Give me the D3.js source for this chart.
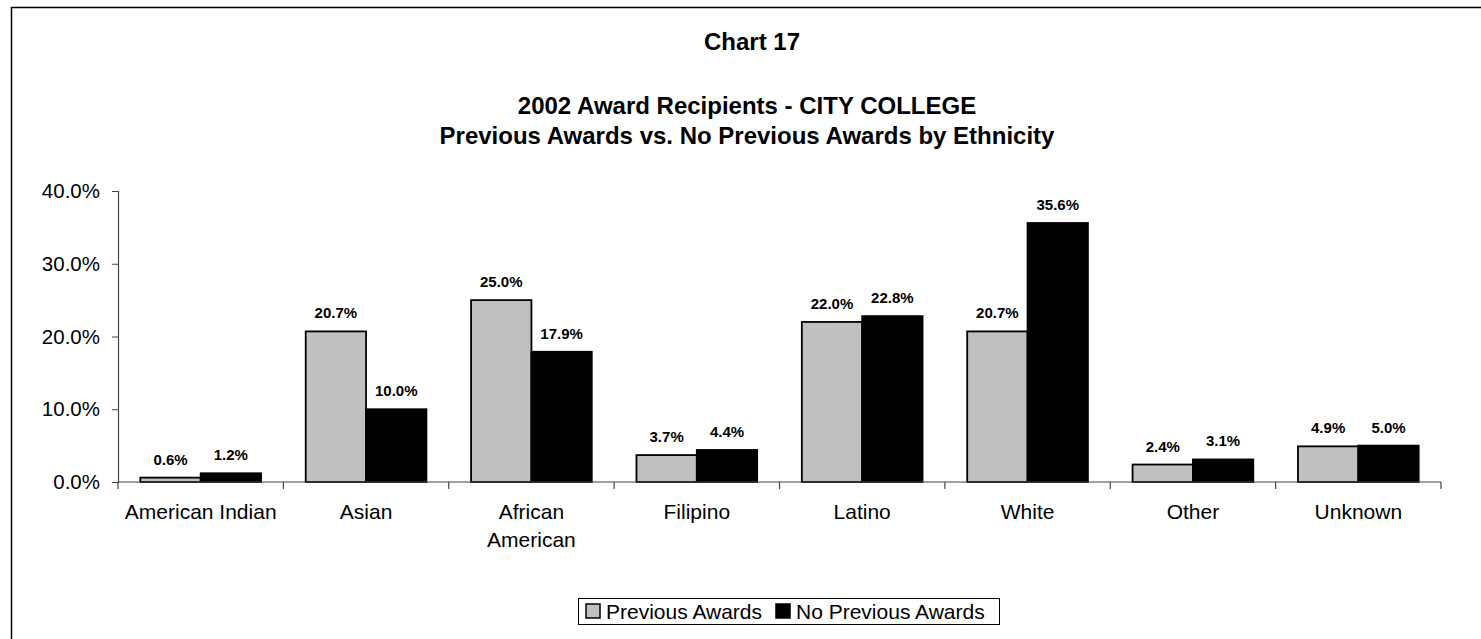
<!DOCTYPE html>
<html>
<head>
<meta charset="utf-8">
<script src="https://cdn.jsdelivr.net/npm/d3@7"></script>
<style>
  html, body { margin: 0; padding: 0; background: #fff; }
  svg { display: block; font-family: "Liberation Sans", Arial, sans-serif; }
</style>
</head>
<body>
<svg id="chart" width="1481" height="639"></svg>
<script>
const categories = ["American Indian", "Asian", "African American", "Filipino", "Latino", "White", "Other", "Unknown"];
const seriesNames = ["Previous Awards", "No Previous Awards"];
const previousAwards = [0.6, 20.7, 25.0, 3.7, 22.0, 20.7, 2.4, 4.9];
const noPreviousAwards = [1.2, 10.0, 17.9, 4.4, 22.8, 35.6, 3.1, 5.0];
const yTicks = [0, 10, 20, 30, 40];
const seriesColors = ["#c0c0c0", "#000000"];

const svg = d3.select("#chart");
const W = 1481, H = 639;

// outer border (right/bottom off canvas)
svg.append("rect")
  .attr("x", 11.5).attr("y", 7.5).attr("width", 1480).attr("height", 640)
  .attr("fill", "#fff").attr("stroke", "#000").attr("stroke-width", 1.5);

// titles
const cx = 747;
svg.append("text").attr("x", cx + 5).attr("y", 50).attr("text-anchor", "middle")
  .attr("font-size", 24).attr("font-weight", "bold").text("Chart 17");
svg.append("text").attr("x", cx).attr("y", 114).attr("text-anchor", "middle")
  .attr("font-size", 24).attr("font-weight", "bold").text("2002 Award Recipients - CITY COLLEGE");
svg.append("text").attr("x", cx).attr("y", 144).attr("text-anchor", "middle")
  .attr("font-size", 24).attr("font-weight", "bold").text("Previous Awards vs. No Previous Awards by Ethnicity");

// scales
const plotLeft = 118, plotRight = 1441, plotTop = 191, plotBottom = 482;
const x0 = d3.scaleBand().domain(categories).range([plotLeft, plotRight]).paddingInner(0).paddingOuter(0);
const x1 = d3.scaleBand().domain(seriesNames).range([0, x0.bandwidth()]).paddingInner(0).paddingOuter(0.37);
const y = d3.scaleLinear().domain([0, 40]).range([plotBottom, plotTop]);

// y axis
const yAxis = svg.append("g").attr("transform", `translate(${plotLeft},0)`)
  .call(d3.axisLeft(y).tickValues(yTicks).tickSize(6).tickPadding(12).tickFormat(d => d3.format(".1f")(d) + "%"));
yAxis.select(".domain").attr("stroke", "#444").attr("stroke-width", 1.2);
yAxis.selectAll(".tick line").attr("stroke", "#444");
yAxis.selectAll(".tick text").attr("font-size", 20.5).attr("fill", "#000")
  .attr("font-family", "'Liberation Sans', Arial, sans-serif");

// bars
const data = categories.map((c, i) => ({ cat: c, vals: [previousAwards[i], noPreviousAwards[i]] }));
const groups = svg.append("g").selectAll("g").data(data).join("g")
  .attr("transform", d => `translate(${x0(d.cat)},0)`);
groups.selectAll("rect").data(d => d.vals.map((v, j) => ({ s: seriesNames[j], v, j }))).join("rect")
  .attr("x", d => x1(d.s))
  .attr("width", x1.bandwidth())
  .attr("y", d => y(d.v))
  .attr("height", d => y(0) - y(d.v))
  .attr("fill", d => seriesColors[d.j])
  .attr("stroke", "#000").attr("stroke-width", 1.8);

groups.selectAll("text.val").data(d => d.vals.map((v, j) => ({ s: seriesNames[j], v, j }))).join("text")
  .attr("class", "val")
  .attr("x", d => x1(d.s) + x1.bandwidth() / 2)
  .attr("y", d => y(d.v) - 13)
  .attr("text-anchor", "middle")
  .attr("font-size", 15).attr("font-weight", "bold")
  .text(d => d3.format(".1f")(d.v) + "%");

// x axis
const xAxisG = svg.append("g").attr("transform", `translate(0,${plotBottom})`);
xAxisG.append("line").attr("x1", plotLeft).attr("x2", plotRight).attr("y1", 0).attr("y2", 0)
  .attr("stroke", "#444").attr("stroke-width", 1.2);
const boundaries = categories.map(c => x0(c)).concat([plotRight]);
xAxisG.selectAll("line.tk").data(boundaries).join("line").attr("class", "tk")
  .attr("x1", d => d).attr("x2", d => d).attr("y1", 0).attr("y2", 7)
  .attr("stroke", "#444").attr("stroke-width", 1.2);

// category labels with wrapping
const labelG = xAxisG.selectAll("text.cat").data(categories).join("text").attr("class", "cat")
  .attr("x", d => x0(d) + x0.bandwidth() / 2)
  .attr("y", 37)
  .attr("text-anchor", "middle")
  .attr("font-size", 21);
labelG.each(function(d) {
  const t = d3.select(this);
  t.text(d);
  const maxW = x0.bandwidth() - 8;
  if (this.getComputedTextLength() > maxW) {
    const words = d.split(" ");
    t.text(null);
    words.forEach((w, k) => {
      t.append("tspan").attr("x", x0(d) + x0.bandwidth() / 2).attr("dy", k === 0 ? 0 : 28).text(w);
    });
  }
});

// legend
const lg = svg.append("g");
lg.append("rect").attr("x", 578.5).attr("y", 598.5).attr("width", 421).attr("height", 26)
  .attr("fill", "#fff").attr("stroke", "#000").attr("stroke-width", 1);
const legendItems = [
  { name: seriesNames[0], color: seriesColors[0], sx: 586, tx: 606 },
  { name: seriesNames[1], color: seriesColors[1], sx: 776, tx: 796 }
];
legendItems.forEach(it => {
  lg.append("rect").attr("x", it.sx).attr("y", 604).attr("width", 14).attr("height", 14)
    .attr("fill", it.color).attr("stroke", "#000").attr("stroke-width", 1.5);
  lg.append("text").attr("x", it.tx).attr("y", 619).attr("font-size", 21).text(it.name);
});
</script>
</body>
</html>
